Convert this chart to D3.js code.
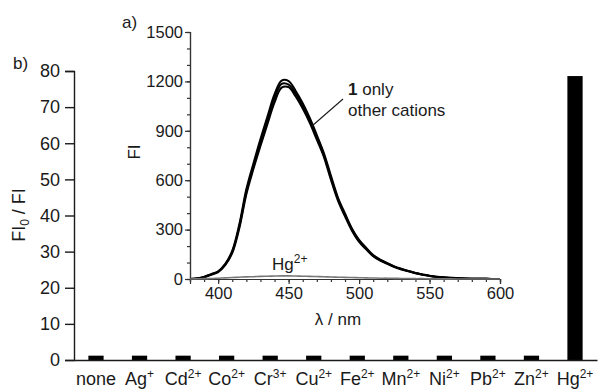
<!DOCTYPE html>
<html><head><meta charset="utf-8">
<script src="https://cdn.jsdelivr.net/npm/d3@7"></script>
<style>
body{margin:0;background:#fff;}
svg text{font-family:"Liberation Sans",Arial,sans-serif;fill:#1a1a1a;}
</style></head>
<body><svg id="c" width="598" height="390"></svg>
<script>
// ---- Data (b: FI0/FI per cation) ----
const cations = ["none","Ag","Cd","Co","Cr","Cu","Fe","Mn","Ni","Pb","Zn","Hg"];
const charges = ["","+","2+","2+","3+","2+","2+","2+","2+","2+","2+","2+"];
const ratios  = [1.2,1.2,1.2,1.2,1.2,1.2,1.2,1.2,1.2,1.2,1.2,78.6];
const ratioTicks = [0,10,20,30,40,50,60,70,80];

// ---- Data (a: inset spectra) ----
const wavelengths = [380,385,390,395,400,405,410,415,420,425,430,435,440,445,450,455,460,465,470,475,480,485,490,495,500,505,510,515,520,525,530,535,540,545,550,560,570,580,590,600];
const fiOnly1   = [0,3,12,28,45,88,165,320,530,685,830,965,1100,1185,1180,1125,1050,962,860,752,615,485,390,300,232,185,142,115,95,75,60,48,36,27,19,9,4,2,1,0];
const fiOtherLo = [0,3,11,26,42,84,158,308,515,668,808,942,1072,1162,1165,1108,1035,948,846,742,603,476,380,292,225,180,138,112,92,73,58,47,35,26,18,9,4,2,1,0];
const fiOtherHi = [0,3,13,30,47,92,172,332,546,702,850,988,1122,1205,1202,1142,1068,978,874,765,628,495,398,306,238,190,145,118,97,77,62,49,37,28,20,10,5,2,1,0];
const fiHg      = [0,1,2,3,5,7,9,11,13,14,16,17,18,19,19,18,17,16,15,14,12,11,10,9,8,7,6,5,5,4,3,3,2,2,1,1,0,0,0,0];
const fiTicks = [0,300,600,900,1200,1500];
const nmTicks = [400,450,500,550,600];

const svg = d3.select("#c");

// ===== Main chart (b) =====
const x = d3.scaleBand().domain(cations).range([74,597]).paddingInner(0.65).paddingOuter(0.33);
const y = d3.scaleLinear().domain([0,80]).range([360,71]);

const gy = svg.append("g").attr("transform","translate(74,0)")
  .call(d3.axisLeft(y).tickValues(ratioTicks).tickSize(9).tickPadding(5).tickFormat(d3.format("d")));
gy.selectAll("text").style("font-size","18px");
gy.selectAll("path,line").attr("stroke","#1a1a1a").attr("stroke-width",1.4);

svg.append("g").selectAll("rect").data(cations).join("rect")
  .attr("x",d=>x(d)).attr("width",x.bandwidth())
  .attr("y",(d,i)=>y(ratios[i])).attr("height",(d,i)=>y(0)-y(ratios[i]))
  .attr("fill","#000");

const gx = svg.append("g").attr("transform","translate(0,360)")
  .call(d3.axisBottom(x).tickSize(0).tickPadding(12));
gx.selectAll("path").attr("stroke","#1a1a1a").attr("stroke-width",1.4);
gx.selectAll("text").each(function(d,i){
  const t = d3.select(this).text(null).style("font-size","18px");
  t.append("tspan").text(d);
  const c = charges[cations.indexOf(d)];
  if(c){ t.append("tspan").attr("dy",-7).style("font-size","12px").text(c); }
});

// y title
const yt = svg.append("text").attr("transform","translate(25,215) rotate(-90)")
  .attr("text-anchor","middle").style("font-size","18px");
yt.append("tspan").text("FI");
yt.append("tspan").attr("dy",4).style("font-size","12px").text("0");
yt.append("tspan").attr("dy",-4).text(" / FI");

svg.append("text").attr("x",13).attr("y",69).style("font-size","17px").text("b)");
svg.append("text").attr("x",122).attr("y",28).style("font-size","17px").text("a)");

// ===== Inset (a) =====
const xs = d3.scaleLinear().domain([380,600]).range([190,500]);
const ys = d3.scaleLinear().domain([0,1500]).range([279,32]);

const iy = svg.append("g").attr("transform","translate(190,0)")
  .call(d3.axisLeft(ys).tickValues(d3.range(0,1501,100)).tickSize(3).tickFormat(""));
const iyM = svg.append("g").attr("transform","translate(190,0)")
  .call(d3.axisLeft(ys).tickValues(fiTicks).tickSize(5).tickPadding(2).tickFormat(d3.format("d")));
iyM.selectAll("text").style("font-size","16.5px");

const ix = svg.append("g").attr("transform","translate(0,279)")
  .call(d3.axisBottom(xs).tickValues(d3.range(380,601,10)).tickSize(3).tickFormat(""));
const ixM = svg.append("g").attr("transform","translate(0,279)")
  .call(d3.axisBottom(xs).tickValues(nmTicks).tickSize(5).tickPadding(3).tickFormat(d3.format("d")));
ixM.selectAll("text").style("font-size","16.5px");
[iy,iyM,ix,ixM].forEach(g=>g.selectAll("path,line").attr("stroke","#333").attr("stroke-width",1.2));

const line = d3.line().x((d,i)=>xs(wavelengths[i])).y(d=>ys(d)).curve(d3.curveCatmullRom.alpha(0.5));
[fiOtherLo,fiOtherHi,fiOnly1].forEach(s=>{
  svg.append("path").datum(s).attr("d",line).attr("fill","none")
    .attr("stroke","#000").attr("stroke-width",2);
});
svg.append("path").datum(fiHg).attr("d",line).attr("fill","none")
  .attr("stroke","#777").attr("stroke-width",1.6);

// inset labels
svg.append("text").attr("transform","translate(140,152) rotate(-90)")
  .attr("text-anchor","middle").style("font-size","17px").text("FI");
svg.append("text").attr("x",338).attr("y",325).attr("text-anchor","middle")
  .style("font-size","17px").text("λ / nm");

const hgT = svg.append("text").attr("x",272).attr("y",270).style("font-size","17px");
hgT.append("tspan").text("Hg");
hgT.append("tspan").attr("dy",-7).style("font-size","12px").text("2+");

svg.append("line").attr("x1",312).attr("y1",126).attr("x2",343).attr("y2",99)
  .attr("stroke","#1a1a1a").attr("stroke-width",1.1);
const t1 = svg.append("text").attr("x",348).attr("y",95).style("font-size","17px");
t1.append("tspan").style("font-weight","bold").text("1");
t1.append("tspan").text(" only");
svg.append("text").attr("x",348).attr("y",116).style("font-size","17px").text("other cations");
</script></body></html>
